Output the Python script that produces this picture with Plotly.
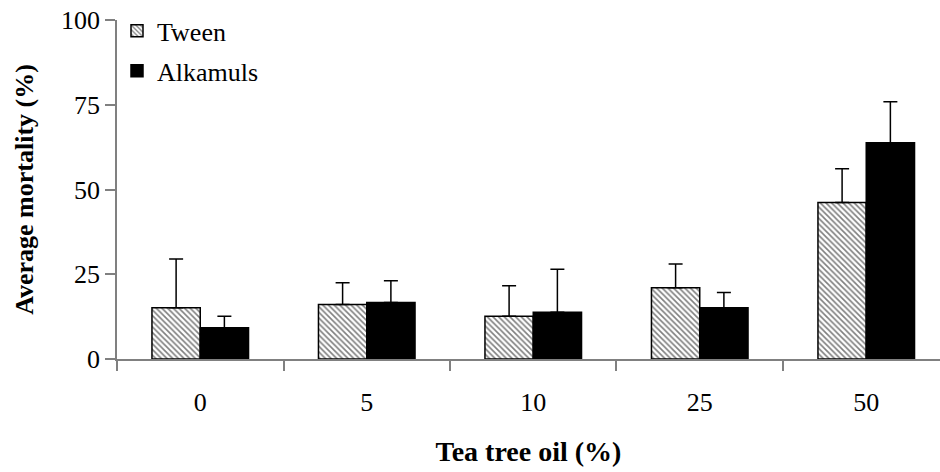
import plotly.graph_objects as go

categories = ["0", "5", "10", "25", "50"]
tween = [15.1, 16.1, 12.6, 21.0, 46.2]
tween_err = [14.4, 6.4, 9.0, 7.0, 9.9]
alkamuls = [9.2, 16.7, 13.8, 15.1, 63.8]
alkamuls_err = [3.4, 6.4, 12.7, 4.5, 12.1]

font_family = "Liberation Serif, Times New Roman, serif"

fig = go.Figure()
fig.add_trace(go.Bar(
    x=categories, y=tween, name="Tween", legendgroup="t",
    marker=dict(color="white", line=dict(color="black", width=1.5),
                pattern=dict(shape="\\", fgcolor="black", bgcolor="white", size=4, solidity=0.4)),
    error_y=dict(type="data", array=tween_err, arrayminus=[0]*5, symmetric=False,
                 color="black", thickness=1.5, width=7),
))
fig.add_trace(go.Bar(
    x=categories, y=alkamuls, name="Alkamuls", legendgroup="a",
    marker=dict(color="black", line=dict(color="black", width=1.5)),
    error_y=dict(type="data", array=alkamuls_err, arrayminus=[0]*5, symmetric=False,
                 color="black", thickness=1.5, width=7),
))

fig.update_layout(
    width=940, height=472,
    margin=dict(l=117, r=0, t=20, b=113),
    plot_bgcolor="white", paper_bgcolor="white",
    barmode="group", bargap=0.42, bargroupgap=0,
    font=dict(family=font_family, size=26, color="black"),
    showlegend=True,
    legend=dict(x=0.0, y=1.037, xanchor="left", yanchor="top", traceorder="grouped",
                bgcolor="rgba(0,0,0,0)", font=dict(size=26), tracegroupgap=3),
    xaxis=dict(
        type="category", range=[-0.5, 4.443], tickson="boundaries",
        ticks="outside", ticklen=10, tickcolor="#808080", tickwidth=1.5,
        showline=True, linecolor="#808080", linewidth=1.5,
        showgrid=False, zeroline=False, ticklabelstandoff=19,
        tickfont=dict(size=26),
        title=dict(text="<b>Tea tree oil (%)</b>", font=dict(size=28), standoff=25),
    ),
    yaxis=dict(
        range=[0, 100], tickvals=[0, 25, 50, 75, 100],
        ticks="outside", ticklen=10, tickcolor="#808080", tickwidth=1.5,
        showline=True, linecolor="#808080", linewidth=1.5,
        showgrid=False, zeroline=False,
        tickfont=dict(size=26),
        title=dict(text="<b>Average mortality (%)</b>", font=dict(size=26), standoff=20),
    ),
)

fig.write_html("out.html")
